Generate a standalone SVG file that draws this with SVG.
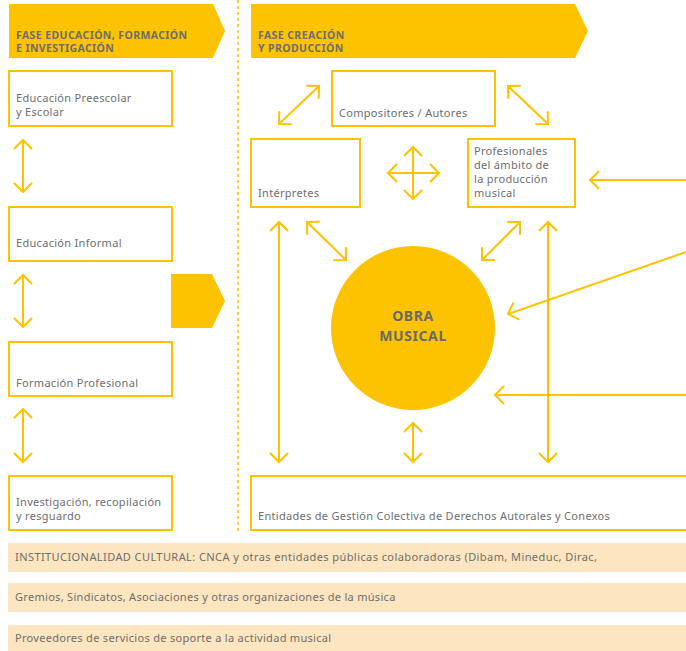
<svg xmlns="http://www.w3.org/2000/svg" width="686" height="651" viewBox="0 0 686 651">
<defs>
<style>
.box{fill:#fff;stroke:#FDC300;stroke-width:2}
.hdr{fill:#FDC300}
.ht{font-family:"Noto Sans","Open Sans",sans-serif;font-weight:bold;font-size:10.5px;letter-spacing:0.4px;fill:#6E6E6E}
.t{font-family:"Noto Sans","Open Sans",sans-serif;font-size:11px;letter-spacing:0.3px;fill:#6E6E6E}
.ot{font-family:"Noto Sans","Open Sans",sans-serif;font-weight:bold;font-size:14px;letter-spacing:0.6px;fill:#6A6A6A}
.bar{fill:#FDE5C0}
.c{fill:none;stroke:#FDC300;stroke-width:2;marker-end:url(#ah)}
.d{marker-start:url(#ah)}
</style>
<marker id="ah" viewBox="-12 -12 24 24" refX="0" refY="0" markerWidth="24" markerHeight="24" markerUnits="userSpaceOnUse" orient="auto-start-reverse">
<path d="M-9,-9 L0,0 L-9,9" fill="none" stroke="#FDC300" stroke-width="2"/>
</marker>
</defs>
<rect width="686" height="651" fill="#fff"/>
<line x1="238" y1="0" x2="238" y2="532" stroke="#FDC300" stroke-width="1.5" stroke-dasharray="3 3"/>

<g id="hdr-educacion">
<polygon class="hdr" points="9,4 213,4 225,31 213,58 9,58"/>
<text class="ht" x="16" y="39">FASE EDUCACIÓN, FORMACIÓN</text>
<text class="ht" x="16" y="52">E INVESTIGACIÓN</text>
</g>
<g id="hdr-creacion">
<polygon class="hdr" points="251,4 575,4 588,31 575,58 251,58"/>
<text class="ht" x="258" y="39">FASE CREACIÓN</text>
<text class="ht" x="258" y="52">Y PRODUCCIÓN</text>
</g>
<g id="phase-arrow">
<polygon class="hdr" points="171,274 212,274 225,301 212,328 171,328"/>
</g>

<g id="n-preescolar">
<rect class="box" x="9" y="71" width="163" height="55"/>
<text class="t" x="16" y="102">Educación Preescolar</text>
<text class="t" x="16" y="116">y Escolar</text>
</g>
<g id="n-informal">
<rect class="box" x="9" y="207" width="163" height="54"/>
<text class="t" x="16" y="247">Educación Informal</text>
</g>
<g id="n-formacion">
<rect class="box" x="9" y="342" width="163" height="54"/>
<text class="t" x="16" y="387">Formación Profesional</text>
</g>
<g id="n-investigacion">
<rect class="box" x="9" y="476" width="163" height="54"/>
<text class="t" x="16" y="506">Investigación, recopilación</text>
<text class="t" x="16" y="520">y resguardo</text>
</g>

<g id="n-compositores">
<rect class="box" x="332" y="71" width="163" height="55"/>
<text class="t" x="339" y="117">Compositores / Autores</text>
</g>
<g id="n-interpretes">
<rect class="box" x="251" y="139" width="109" height="68"/>
<text class="t" x="258" y="197">Intérpretes</text>
</g>
<g id="n-profesionales">
<rect class="box" x="468" y="139" width="107" height="68"/>
<text class="t" x="474" y="155">Profesionales</text>
<text class="t" x="474" y="169">del ámbito de</text>
<text class="t" x="474" y="183">la producción</text>
<text class="t" x="474" y="197">musical</text>
</g>
<g id="n-obra">
<circle cx="413" cy="328" r="82" fill="#FDC300"/>
<text class="ot" x="413" y="321" text-anchor="middle">OBRA</text>
<text class="ot" x="413" y="341" text-anchor="middle">MUSICAL</text>
</g>
<g id="n-entidades">
<path class="box" d="M687,476 H251 V530 H687"/>
<text class="t" x="258" y="520">Entidades de Gestión Colectiva de Derechos Autorales y Conexos</text>
</g>

<g id="n-bars">
<rect class="bar" x="8" y="543" width="678" height="29"/>
<text class="t" x="15" y="561" style="letter-spacing:0.42px">INSTITUCIONALIDAD CULTURAL: CNCA y otras entidades públicas colaboradoras (Dibam, Mineduc, Dirac,</text>
<rect class="bar" x="8" y="583" width="678" height="29"/>
<text class="t" x="15" y="601">Gremios, Sindicatos, Asociaciones y otras organizaciones de la música</text>
<rect class="bar" x="8" y="625" width="678" height="26"/>
<text class="t" x="15" y="642">Proveedores de servicios de soporte a la actividad musical</text>
</g>

<g id="connectors">
<line class="c d" x1="23" y1="140" x2="23" y2="192"/>
<line class="c d" x1="23" y1="275" x2="23" y2="327"/>
<line class="c d" x1="23" y1="409" x2="23" y2="462"/>
<line class="c d" x1="279" y1="124" x2="319" y2="86"/>
<line class="c d" x1="508" y1="86" x2="548" y2="124"/>
<line class="c d" x1="388" y1="173" x2="439" y2="173"/>
<line class="c d" x1="413" y1="147" x2="413" y2="199"/>
<line class="c" x1="686" y1="180" x2="590" y2="180"/>
<line class="c d" x1="279" y1="222" x2="279" y2="462"/>
<line class="c d" x1="307" y1="222" x2="346" y2="260"/>
<line class="c d" x1="520" y1="222" x2="482" y2="260"/>
<line class="c d" x1="548" y1="222" x2="548" y2="462"/>
<line class="c" x1="686" y1="252" x2="508" y2="314"/>
<line class="c" x1="686" y1="395" x2="495" y2="395"/>
<line class="c d" x1="413" y1="423" x2="413" y2="462"/>
</g>
</svg>
